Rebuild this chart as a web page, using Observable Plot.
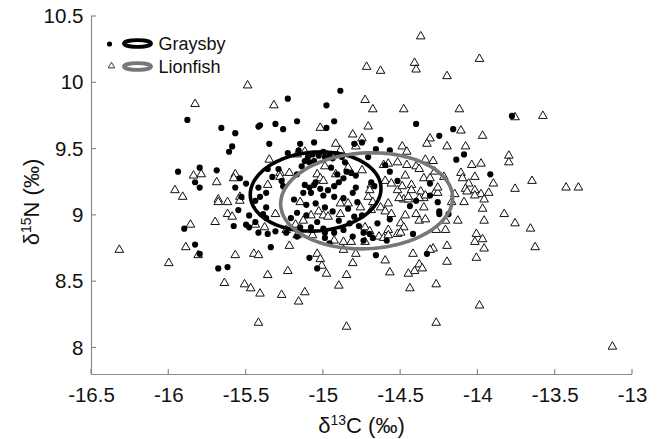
<!DOCTYPE html>
<html>
<head>
<meta charset="utf-8">
<script src="https://cdn.jsdelivr.net/npm/d3@7"></script>
<script src="https://cdn.jsdelivr.net/npm/@observablehq/plot@0.6"></script>
<style>
  html, body { margin: 0; padding: 0; background: #fff; }
  svg { display: block; }
</style>
</head>
<body>
<div id="chart"></div>
<script>
// ---- data ----
const xTicks = [-16.5, -16, -15.5, -15, -14.5, -14, -13.5, -13];
const yTicks = [8, 8.5, 9, 9.5, 10, 10.5];

const graysbyC13 = [
-15.23,-15.88,-15.66,-15.57,-15.41,-15.42,-15.31,-15.26,-15.17,-14.98,-14.98,-15.59,-15.61,-15.35,-15.23,-15.15,-15.06,-15.00,
-15.94,-15.80,-15.83,-15.80,-15.69,-15.54,-15.50,-15.57,-15.42,-15.37,-15.36,-15.33,-15.29,-15.27,-15.26,
-15.90,-15.83,-15.80,-15.68,-15.62,-15.58,-15.50,-15.48,-15.42,-15.36,-15.34,-15.31,-15.24,-15.09,-15.04,-15.08,-15.00,
-15.53,-15.55,-15.48,-15.44,-15.37,-15.39,-15.44,-15.37,-15.21,-14.93,-14.80,-14.75,-14.66,-14.63,-15.16,
-15.12,-15.09,-15.06,-14.86,-15.14,-14.91,-14.85,-14.82,-14.79,-14.87,-14.93,-14.90,-15.05,-14.79,-14.69,-14.67,
-15.17,-15.12,-15.09,-15.06,-15.03,-14.99,-14.96,-14.91,-14.89,-14.40,-14.25,-14.16,-13.78,-14.71,-14.57,-14.09,-14.14,
-13.92,-14.57,-14.60,-14.52,-14.31,-14.31,-14.26,-14.40,-14.44,-14.25,-14.25,-14.19,-14.57,-14.42,-14.33,-14.59,-14.66,
-14.68,-14.74,-14.74,-15.13,-15.08,-15.00,-14.93,-14.87,-14.81,-15.11,-15.05,-14.99,-15.17,-15.11,-14.94,-14.80,-14.75,
-14.83,-14.77,-14.65,-15.15,-14.99,-14.93,-14.87,-14.70,-14.99,-14.96,-14.81,-15.17,-15.41,
-15.10,-15.07,-14.94,-14.88,-15.02,-14.97,-15.19,-14.84,-14.90,-15.04,-14.78,-14.95
];
const graysbyN15 = [
9.88,9.72,9.66,9.62,9.68,9.67,9.69,9.65,9.71,9.83,9.66,9.52,9.48,9.54,9.47,9.54,9.55,9.48,
9.33,9.36,9.25,9.21,9.34,9.28,9.24,9.21,9.21,9.17,9.35,9.29,9.35,9.26,9.22,
8.90,8.78,8.71,8.60,8.61,8.92,8.93,8.91,8.87,8.86,8.76,8.88,8.87,8.68,8.60,8.91,8.90,
9.14,9.04,9.00,8.95,8.98,9.01,9.11,9.06,8.98,9.71,9.54,9.55,9.50,9.57,9.49,
9.41,9.40,9.41,9.40,9.37,9.31,9.33,9.32,9.30,9.28,9.22,9.25,9.25,9.21,9.25,9.22,
9.31,9.23,9.21,9.23,9.45,9.44,9.45,9.46,9.94,9.69,9.60,9.65,9.75,9.44,9.49,9.46,9.42,
9.31,9.33,9.38,9.26,9.24,9.15,9.10,9.11,9.07,9.03,9.01,9.01,8.97,8.86,8.71,8.81,8.70,
8.83,8.81,8.87,9.17,9.17,9.15,9.14,9.13,9.17,9.08,9.09,9.06,9.02,9.00,9.03,8.99,9.00,
8.94,8.92,8.94,8.91,8.87,8.87,8.89,8.86,8.83,8.79,8.84,8.84,9.14,
9.44,9.46,9.43,9.44,9.20,9.19,9.12,9.05,8.96,8.95,9.10,9.36
];

const lionfishC13 = [
-15.49,-15.83,-15.32,-15.02,-15.84,-15.79,-15.96,-15.91,-15.69,-15.57,-15.58,-15.68,-15.68,-15.62,-15.54,-15.54,-15.35,-15.36,
-15.22,-15.28,-15.17,-15.12,-15.62,-14.37,-13.99,-14.41,-14.40,-14.72,-14.63,-14.20,-14.73,-14.68,-14.48,-14.12,-13.76,-13.58,
-14.71,-14.11,-13.97,-14.81,-14.75,-14.31,-14.33,-14.20,-14.08,-14.92,-14.89,-14.49,-14.46,-13.80,-13.80,-14.04,-13.98,-14.34,
-14.29,-13.65,-13.76,-13.43,-13.35,-13.90,-14.02,-14.11,-14.10,-14.06,-14.08,-14.07,-14.15,-14.09,-13.98,-13.93,-13.96,-13.97,
-13.83,-14.61,-14.58,-14.52,-14.46,-14.40,-14.38,-14.28,-14.47,-14.60,-14.56,-14.52,-14.43,-14.43,-14.37,-14.35,-14.48,-14.45,
-14.28,-14.26,-14.17,-13.76,-13.66,-13.63,-14.01,-13.97,-14.02,-13.96,-14.21,-14.27,-14.20,-14.29,-14.31,-14.20,-14.42,-14.60,
-14.81,-14.85,-14.90,-14.57,-14.38,-14.36,-14.41,-14.45,-14.44,-14.27,-13.99,-14.85,-14.27,-13.13,-13.96,-14.13,-16.32,-16.00,
-15.89,-15.81,-15.86,-15.70,-15.57,-15.45,-15.42,-15.36,-15.64,-15.51,-15.47,-15.41,-15.42,-15.27,-15.16,-15.12,-15.23,-15.22,
-15.04,-15.02,-15.01,-14.98,-15.44,-15.38,-15.17,-15.07,-15.28,-14.79,-14.99,-15.04,-15.02,-15.00,-14.92,-14.84,-14.75,-14.69,
-14.70,-14.22,-14.35,-14.31,-14.49,-14.26,-14.02,-15.59,-15.31,-15.24,-15.15,-14.89,-14.84,-15.03,-15.00,-14.97,-15.08,-15.13,
-14.89,-14.71,-14.68,-14.69,-14.76,-14.63,-14.60,-14.73,-14.70,-14.58,-14.64,-14.61,-14.93,-14.87,-14.82,-14.73,-14.87,-14.79,
-15.18,-14.51,-14.45,-14.38,-14.34,-14.02,-14.58,-14.35,-14.40,-14.47,-14.56,-14.38,-14.34,-14.21,-14.50,-14.48,-14.52,-14.50,
-14.58,-14.01
];
const lionfishN15 = [
9.98,9.84,9.83,9.66,9.30,9.31,9.19,9.14,9.25,9.31,9.28,9.12,9.10,9.10,9.14,9.11,9.42,9.23,
9.32,9.32,9.46,9.48,9.01,10.35,10.18,10.15,10.10,10.12,10.09,10.05,9.87,9.80,9.80,9.80,9.74,9.75,
9.67,9.64,9.60,9.61,9.58,9.58,9.54,9.52,9.52,9.54,9.49,9.52,9.48,9.45,9.40,9.38,9.39,9.42,
9.41,9.26,9.20,9.21,9.21,9.24,9.29,9.32,9.28,9.24,9.20,9.18,9.16,9.10,9.16,9.17,9.12,9.05,
9.01,9.38,9.39,9.40,9.38,9.37,9.35,9.33,9.30,9.26,9.24,9.19,9.23,9.19,9.18,9.13,9.12,9.12,
9.17,9.17,9.10,8.94,8.90,8.76,8.86,8.82,8.80,8.75,8.89,8.89,8.77,8.75,8.74,8.65,8.71,8.66,
8.64,8.55,8.47,8.57,8.63,8.60,8.58,8.56,8.45,8.48,8.32,8.16,8.19,8.01,8.96,8.96,8.74,8.64,
8.76,8.70,8.93,8.95,8.70,8.71,8.70,8.55,8.49,8.48,8.45,8.41,8.19,8.40,8.35,8.42,8.58,8.77,
8.71,8.67,8.62,8.56,8.93,8.91,8.85,8.85,9.29,9.52,9.37,9.31,9.28,9.26,9.31,9.36,9.34,9.23,
9.19,9.29,9.28,9.28,9.22,9.21,9.19,8.99,9.01,8.89,9.10,9.09,9.09,9.03,9.00,8.99,9.00,8.96,
9.01,9.14,9.10,9.04,9.06,9.06,9.03,8.91,8.88,8.89,8.84,8.83,8.81,8.80,8.80,8.80,8.74,8.71,
8.93,9.13,9.14,9.13,9.15,9.15,9.09,9.06,9.01,9.00,9.01,8.96,8.97,8.96,8.94,8.91,8.86,8.87,
8.85,8.68
];

// standard ellipses (center, semi-axes in ‰, tilt in degrees)
const ellipseSpecies = ["Graysby", "Lionfish"];
const ellipseCx = [-15.05, -14.72];
const ellipseCy = [9.18, 9.11];
const ellipseA = [0.424, 0.557];
const ellipseB = [0.297, 0.361];
const ellipseTilt = [6, 4];
const ellipseColor = ["#000000", "#777777"];

// ---- tables for the marks ----
const graysby = graysbyC13.map((x, i) => ({x, y: graysbyN15[i]}));
const lionfish = lionfishC13.map((x, i) => ({x, y: lionfishN15[i]}));
const ellipses = [];
ellipseSpecies.forEach((s, k) => {
  const th = ellipseTilt[k] * Math.PI / 180;
  d3.range(0, 361, 3).forEach(deg => {
    const t = deg * Math.PI / 180;
    const u = ellipseA[k] * Math.cos(t), v = ellipseB[k] * Math.sin(t);
    ellipses.push({species: s, x: ellipseCx[k] + u * Math.cos(th) - v * Math.sin(th),
                   y: ellipseCy[k] + u * Math.sin(th) + v * Math.cos(th)});
  });
});

const FONT = "'Liberation Sans', Arial, Helvetica, sans-serif";
const AXIS = "#8a8a8a";

const plot = Plot.plot({
  width: 660,
  height: 439,
  marginLeft: 91,
  marginRight: 28,
  marginTop: 16,
  marginBottom: 65,
  x: {domain: [-16.5, -13]},
  y: {domain: [7.8, 10.5]},
  style: {fontFamily: FONT, fontSize: "20px", color: "#111", background: "#fff", overflow: "visible"},
  marks: [
    Plot.ruleX([-16.5], {stroke: AXIS, strokeWidth: 1.2}),
    Plot.ruleY([7.8], {stroke: AXIS, strokeWidth: 1.2}),
    Plot.axisX({ticks: xTicks, tickSize: 0, tickPadding: 13, tickFormat: d => String(d), label: null, fontSize: 20.5}),
    Plot.axisY({ticks: yTicks, tickSize: 0, tickPadding: 8, tickFormat: d => String(d), label: null, fontSize: 20.5}),
    Plot.dot(lionfish, {x: "x", y: "y", symbol: "triangle", r: 3.2, fill: "#fff", stroke: "#111", strokeWidth: 1}),
    Plot.dot(graysby, {x: "x", y: "y", r: 3.1, fill: "#000", stroke: "none"}),
    Plot.line(ellipses, {x: "x", y: "y", z: "species",
      stroke: d => ellipseColor[ellipseSpecies.indexOf(d.species)], strokeWidth: 3.6, curve: "linear-closed"})
  ]
});

const svg = d3.select(plot);
const sx = plot.scale("x"), sy = plot.scale("y");
const y0 = sy.apply(7.8), x0 = sx.apply(-16.5);

// inward ticks
const ticks = svg.append("g").attr("stroke", AXIS).attr("stroke-width", 1.2);
xTicks.forEach(t => {
  const px = sx.apply(t);
  ticks.append("line").attr("x1", px).attr("x2", px).attr("y1", y0).attr("y2", y0 - 5);
});
yTicks.forEach(t => {
  const py = sy.apply(t);
  ticks.append("line").attr("x1", x0).attr("x2", x0 + 5).attr("y1", py).attr("y2", py);
});

// axis titles with superscripts
const xt = svg.append("text")
  .attr("x", (sx.apply(-16.5) + sx.apply(-13)) / 2).attr("y", 433)
  .attr("text-anchor", "middle").attr("font-family", FONT).attr("font-size", 22).attr("fill", "#111");
xt.append("tspan").text("δ");
xt.append("tspan").attr("font-size", 14).attr("dy", -8).text("13");
xt.append("tspan").attr("dy", 8).text("C (‰)");

const yt = svg.append("text")
  .attr("transform", `translate(39,${(sy.apply(10.5) + y0) / 2 + 7}) rotate(-90)`)
  .attr("text-anchor", "middle").attr("font-family", FONT).attr("font-size", 22).attr("fill", "#111");
yt.append("tspan").text("δ");
yt.append("tspan").attr("font-size", 14).attr("dy", -8).text("15");
yt.append("tspan").attr("dy", 8).text("N (‰)");

// legend
const lg = svg.append("g").attr("font-family", FONT).attr("font-size", 18).attr("fill", "#111")
  .attr("text-anchor", "start");
lg.append("circle").attr("cx", 109.5).attr("cy", 44).attr("r", 2.6).attr("fill", "#000");
lg.append("ellipse").attr("cx", 137.5).attr("cy", 43.5).attr("rx", 13.5).attr("ry", 3.4)
  .attr("fill", "none").attr("stroke", ellipseColor[0]).attr("stroke-width", 3.8);
lg.append("text").attr("x", 158.5).attr("y", 49.5).attr("text-anchor", "start").text(ellipseSpecies[0]);
lg.append("path").attr("d", d3.symbol(d3.symbolTriangle, 18)()).attr("transform", "translate(111.5,66)")
  .attr("fill", "#fff").attr("stroke", "#222").attr("stroke-width", 0.9);
lg.append("ellipse").attr("cx", 137.5).attr("cy", 66.5).attr("rx", 13.5).attr("ry", 3.4)
  .attr("fill", "none").attr("stroke", ellipseColor[1]).attr("stroke-width", 3.8);
lg.append("text").attr("x", 158.5).attr("y", 73).attr("text-anchor", "start").text(ellipseSpecies[1]);

document.getElementById("chart").appendChild(plot);
</script>
</body>
</html>
